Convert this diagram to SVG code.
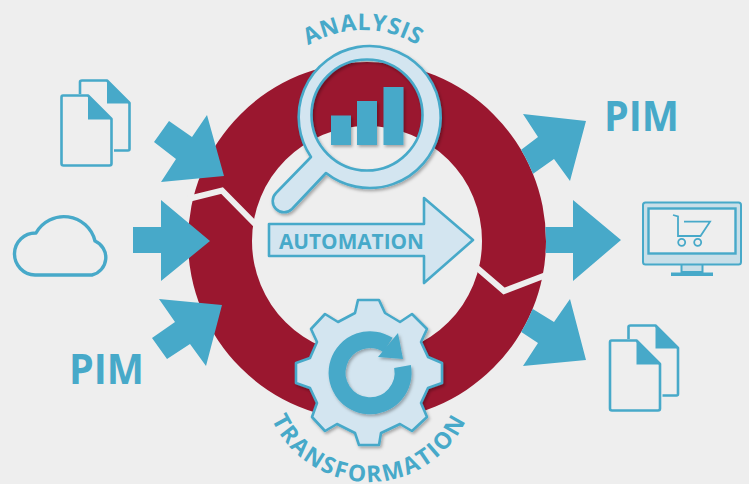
<svg xmlns="http://www.w3.org/2000/svg" xmlns:xlink="http://www.w3.org/1999/xlink" width="749" height="484" viewBox="0 0 749 484">
<style>
.blue{fill:#47a9c9}
.line{fill:none;stroke:#47a9c9;stroke-width:2.6;stroke-linejoin:round}
.pale{fill:#d3e5f0;stroke:#47a9c9;stroke-width:2.6;stroke-linejoin:round}
.t{font-family:"Open Sans","Liberation Sans",sans-serif;font-weight:700;fill:#47a9c9}
.cut{fill:none;stroke:#eeeeee;stroke-width:6}
</style>
<defs>
<filter id="sh" x="-15%" y="-15%" width="135%" height="135%"><feDropShadow dx="1.500" dy="2" stdDeviation="1.600" flood-color="#000" flood-opacity="0.3"/></filter>
<clipPath id="outside"><path clip-rule="evenodd" d="M0 0H749V484H0ZM188 241a179 179 0 1 0 358 0a179 179 0 1 0 -358 0Z"/></clipPath>
<path id="arcA" d="M258 135A105 105 0 0 1 468 135"/>
<path id="arcT" d="M262 375A107 107 0 0 0 476 375"/>
<g id="docs">
<path class="line" d="M80 94V82Q80 80.500 82 80.500H107L129.500 103V149Q129.500 150.500 128 150.500H114"/>
<path class="line" d="M63 95.500H88L111.500 119V163.500Q111.500 165.500 109.500 165.500H63.500Q61.500 165.500 61.500 163.500V97.500Q61.500 95.500 63 95.500Z"/>
<path class="blue" d="M107 81L130 103.500H107Z"/>
<path class="blue" d="M88 96L112 119.500H88Z"/>
</g>
</defs>
<rect width="749" height="484" fill="#eeeeee"/>
<g id="ring">
<path fill="#9a172f" fill-rule="evenodd" d="M188 241a179 179 0 1 0 358 0a179 179 0 1 0 -358 0ZM252 241a115 115 0 1 0 230 0a115 115 0 1 0 -230 0Z"/>
<path class="cut" d="M188 199L222 190.500L256 225"/>
<path class="cut" d="M476 267L504 291L546 275"/>
</g>
<g id="connectors" class="blue">
<polygon points="154,142 169,121 192,137 207,115 224,176 161,182 176,159"/>
<polygon points="133,227 161,227 161,200 210,241 161,281 161,253 133,253"/>
<polygon points="159,299 222,305 206,366 190,344 167,359 152,338 175,322"/>
<g clip-path="url(#outside)">
<polygon points="523,114 586,121 570,181 554,159 520,183 505,162 538,137"/>
<polygon points="530,227 573,227 573,200 621,240 573,281 573,253 530,253"/>
<polygon points="510,295 554,322 570,299 586,360 523,366 538,343 500,318"/>
</g>
</g>
<g id="docs-in"><use xlink:href="#docs" href="#docs"/></g>
<g id="cloud"><path fill="none" stroke="#47a9c9" stroke-width="3.400" stroke-linejoin="round" d="M35 275H92A18 18 0 0 0 95 241A32 32 0 0 0 36 233A21 21 0 0 0 35 275Z"/></g>
<g id="pim-in"><text class="t" x="69" y="384" font-size="41" textLength="75" lengthAdjust="spacingAndGlyphs">PIM</text></g>
<g id="analysis">
<path class="pale" fill-rule="evenodd" filter="url(#sh)" d="M326 173A71 71 0 1 0 311 157L276 193A11 11 0 0 0 292 209ZM311.500 115a55.500 55.500 0 1 0 111 0a55.500 55.500 0 1 0 -111 0Z"/>
<g class="blue" filter="url(#sh)">
<rect x="331" y="115.500" width="20" height="29.500"/>
<rect x="357" y="101" width="20" height="44"/>
<rect x="383.500" y="87" width="20" height="58"/>
</g>
<text class="t" font-size="23" letter-spacing="0.600"><textPath xlink:href="#arcA" href="#arcA" startOffset="50%" text-anchor="middle">ANALYSIS</textPath></text>
</g>
<g id="automation">
<polygon class="pale" points="269,224 424,224 424,198 473,240 424,283 424,256 269,256"/>
<text class="t" x="279" y="248.500" font-size="21.500" textLength="145" lengthAdjust="spacingAndGlyphs">AUTOMATION</text>
</g>
<g id="transformation">
<polygon class="pale" filter="url(#sh)" points="358,300 379,300 385,313 400,322 412,314 427,329 421,342 428,357 442,363 442,383 428,388 421,403 427,417 412,431 400,424 381,433 379,445 359,445 355,433 337,424 325,431 312,417 317,403 310,388 296,383 296,363 310,358 317,342 311,329 325,314 338,322 355,313"/>
<g filter="url(#sh)">
<path fill="none" stroke="#47a9c9" stroke-width="17" d="M402.500 366.500A33 33 0 1 1 388 345"/>
<polygon class="blue" points="398,333 403,359 378,357"/>
</g>
<text class="t" font-size="23" letter-spacing="1.900"><textPath xlink:href="#arcT" href="#arcT" startOffset="50%" text-anchor="middle">TRANSFORMATION</textPath></text>
</g>
<g id="pim-out"><text class="t" x="604" y="131" font-size="41" textLength="75" lengthAdjust="spacingAndGlyphs">PIM</text></g>
<g id="monitor">
<rect x="681.500" y="264" width="21" height="8" fill="#c9dfe8" stroke="#47a9c9" stroke-width="2"/>
<rect x="671" y="272.500" width="42" height="3.500" class="blue"/>
<rect x="643" y="202.500" width="98" height="62" rx="2.500" fill="#c9dfe8" stroke="#47a9c9" stroke-width="2"/>
<rect x="648.500" y="208.500" width="87" height="45" fill="#eeeeee" stroke="#47a9c9" stroke-width="2.400"/>
<path fill="none" stroke="#47a9c9" stroke-width="1.800" d="M673 215L678 216.500V236H700.500L710 221.700H684"/>
<circle cx="681.700" cy="242.300" r="3.500" fill="none" stroke="#47a9c9" stroke-width="1.800"/>
<circle cx="697.700" cy="242.300" r="3.500" fill="none" stroke="#47a9c9" stroke-width="1.800"/>
</g>
<g id="docs-out"><use xlink:href="#docs" href="#docs" transform="translate(548.500 245)"/></g>
</svg>
